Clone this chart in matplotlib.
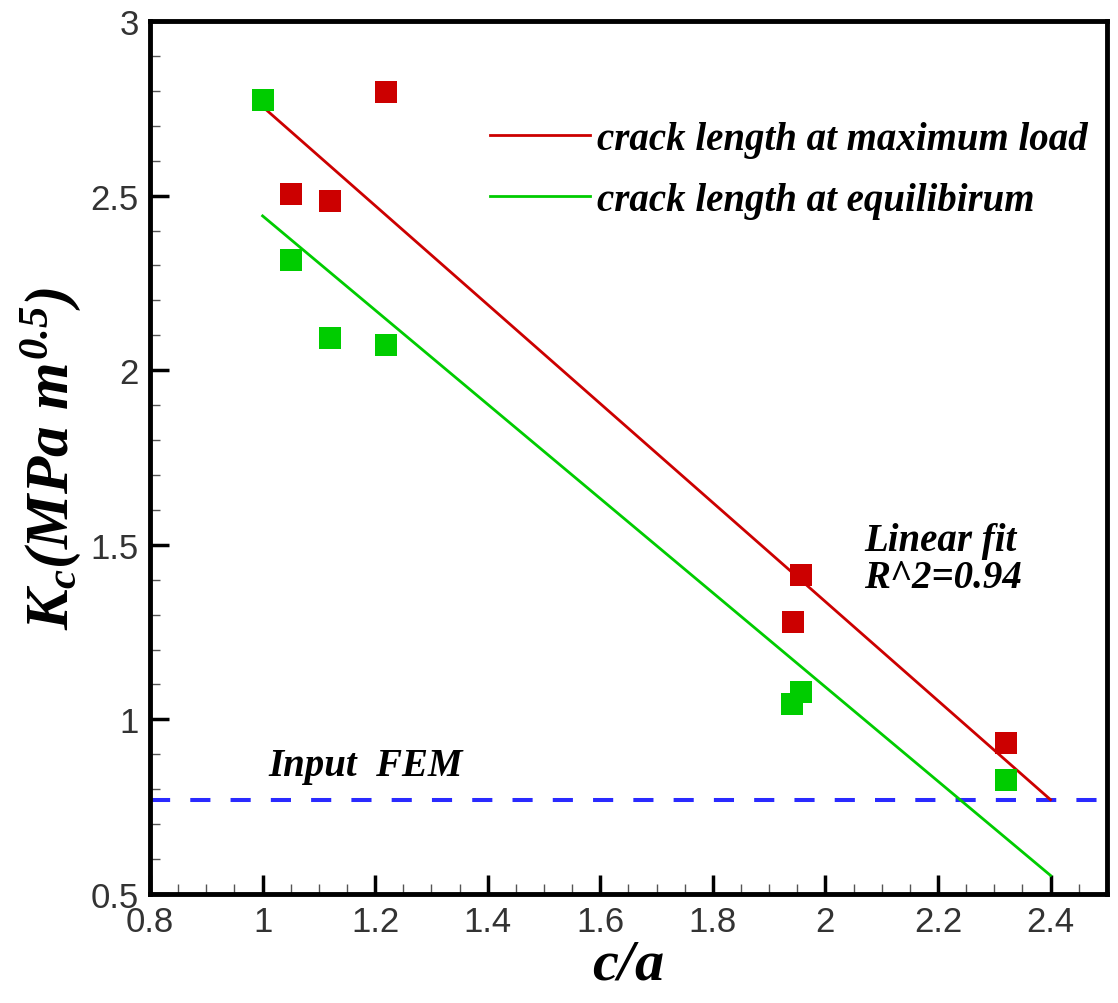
import numpy as np
import matplotlib.pyplot as plt
from matplotlib.ticker import MultipleLocator

plt.rcParams['mathtext.fontset'] = 'custom'
plt.rcParams['mathtext.rm'] = 'Liberation Serif:bold:italic'
plt.rcParams['mathtext.it'] = 'Liberation Serif:bold:italic'
plt.rcParams['mathtext.bf'] = 'Liberation Serif:bold:italic'

# measured points
ca_max = [1.22, 1.05, 1.12, 1.956, 1.942, 2.32]
kc_max = [2.797, 2.505, 2.484, 1.413, 1.278, 0.932]
ca_eq = [1.0, 1.05, 1.12, 1.22, 1.956, 1.94, 2.32]
kc_eq = [2.775, 2.316, 2.091, 2.073, 1.078, 1.044, 0.826]

# linear fit lines (end points)
fit_x = [1.0, 2.4]
fit_max = [2.755, 0.77]
fit_eq = [2.442, 0.553]

fem_input = 0.77

red = '#cc0000'
green = '#00cc00'
blue = '#2a2aff'

fig = plt.figure(figsize=(11.18, 10.04), dpi=100)
ax = fig.add_axes([0.1342, 0.1086, 0.8558, 0.8694])

ax.axhline(fem_input, color=blue, lw=2.9, dashes=(5, 5), zorder=1)
ax.plot(fit_x, fit_max, color=red, lw=2, label='crack length at maximum load', zorder=2)
ax.plot(fit_x, fit_eq, color=green, lw=2, label='crack length at equilibirum', zorder=2)
ax.plot(ca_max, kc_max, 's', color=red, ms=16.5, mew=0, zorder=3)
ax.plot(ca_eq, kc_eq, 's', color=green, ms=16.5, mew=0, zorder=3)

serif = {'family': 'Liberation Serif', 'weight': 'bold', 'style': 'italic'}
ax.text(1.01, 0.867, 'Input  FEM', fontdict=serif, fontsize=28, va='center', ha='left')
ax.text(2.069, 1.459, 'Linear fit\nR^2=0.94', fontdict=serif, fontsize=28,
        va='center', ha='left', linespacing=1.0)

leg = ax.legend(loc='upper left', bbox_to_anchor=(0.355, 0.886), frameon=False,
                prop={'family': 'Liberation Serif', 'weight': 'bold', 'style': 'italic', 'size': 28},
                handlelength=2.58, handletextpad=0.18, labelspacing=0.62,
                borderpad=0, borderaxespad=0)

ax.set_xlim(0.8, 2.5)
ax.set_ylim(0.5, 3)
ax.xaxis.set_minor_locator(MultipleLocator(0.05))
ax.yaxis.set_minor_locator(MultipleLocator(0.1))
ax.set_xticks(np.arange(0.8, 2.41, 0.2))
ax.set_xticklabels(['0.8', '1', '1.2', '1.4', '1.6', '1.8', '2', '2.2', '2.4'])
ax.set_yticks([0.5, 1, 1.5, 2, 2.5, 3])
ax.set_yticklabels(['0.5', '1', '1.5', '2', '2.5', '3'])

ax.tick_params(which='major', direction='in', length=14, width=2.5, labelsize=25,
               labelcolor='#333333', pad=8, top=False, right=False)
ax.tick_params(which='minor', direction='in', length=7, width=1, color='#555555',
               top=False, right=False)
for tl in ax.get_xticklabels() + ax.get_yticklabels():
    tl.set_family('Liberation Sans')
for s in ax.spines.values():
    s.set_linewidth(3.5)

ax.set_xlabel(r'$c/a$', fontsize=42)
ax.set_ylabel(r'$K_c(MPa\ m^{0.5})$', fontsize=44)
ax.xaxis.set_label_coords(0.5, -0.045)
ax.yaxis.set_label_coords(-0.07, 0.5)

plt.savefig('out.png', dpi=100)
